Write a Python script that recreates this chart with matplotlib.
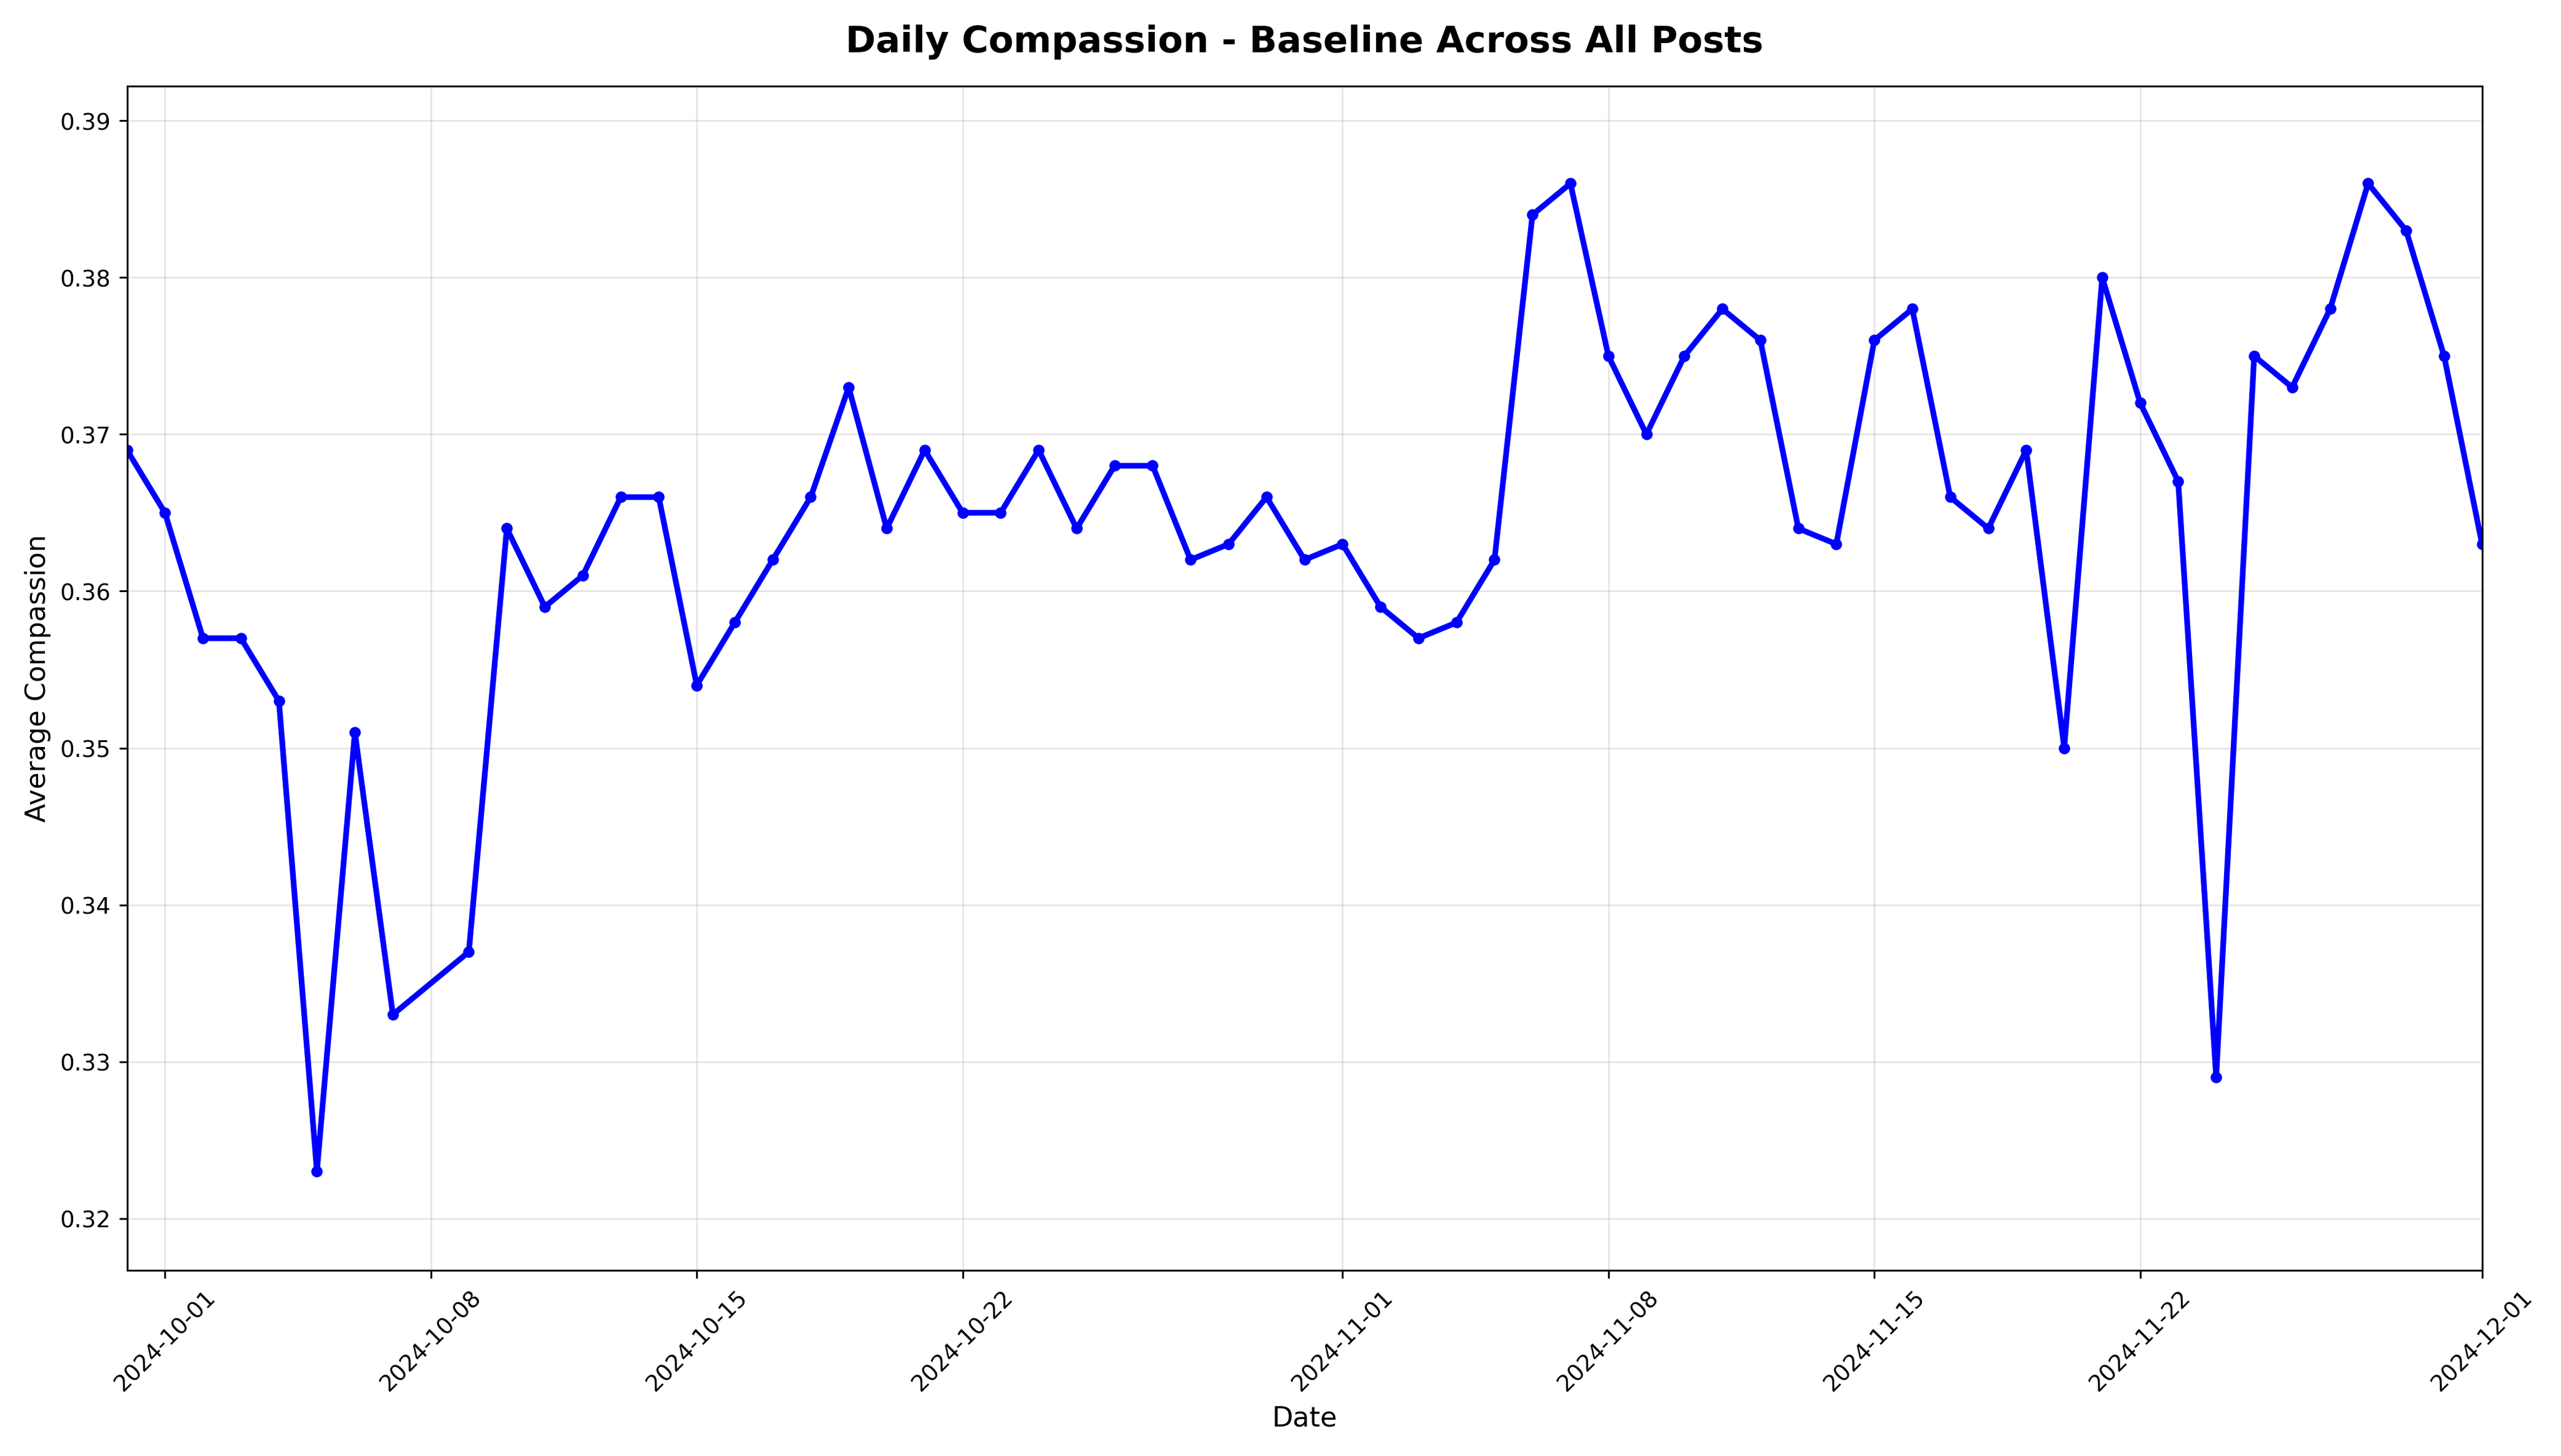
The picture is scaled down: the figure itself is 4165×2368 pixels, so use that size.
import pandas as pd
import matplotlib
matplotlib.use("Agg")
import matplotlib.pyplot as plt
import matplotlib.dates as mdates

dates = pd.to_datetime(
    ["2024-09-30"] + [f"2024-10-{d:02d}" for d in range(1, 8)]
    + [f"2024-10-{d:02d}" for d in range(9, 32)]
    + [f"2024-11-{d:02d}" for d in range(1, 31)]
    + ["2024-12-01"])
values = [0.369,
          0.365, 0.357, 0.357, 0.353, 0.323, 0.351, 0.333,
          0.337, 0.364, 0.359, 0.361, 0.366, 0.366, 0.354, 0.358, 0.362,
          0.366, 0.373, 0.364, 0.369, 0.365, 0.365, 0.369, 0.364, 0.368,
          0.368, 0.362, 0.363, 0.366, 0.362,
          0.363, 0.359, 0.357, 0.358, 0.362, 0.384, 0.386, 0.375, 0.370,
          0.375, 0.378, 0.376, 0.364, 0.363, 0.376, 0.378, 0.366, 0.364,
          0.369, 0.350, 0.380, 0.372, 0.367, 0.329, 0.375, 0.373, 0.378,
          0.386, 0.383, 0.375,
          0.363]

fig, ax = plt.subplots(figsize=(15.62, 8.88), dpi=266.7)
ax.plot(dates, values, color="blue", linewidth=2.5, marker="o", markersize=4)
ax.set_title("Daily Compassion - Baseline Across All Posts", fontsize=16,
             fontweight="bold", pad=15)
ax.set_xlabel("Date", fontsize=12)
ax.set_ylabel("Average Compassion", fontsize=12)
ax.grid(True, alpha=0.3)
ax.set_xlim(dates[0], dates[-1])
ax.set_ylim(0.3167, 0.3922)
ax.xaxis.set_major_locator(mdates.DayLocator(bymonthday=[1, 8, 15, 22]))
ax.xaxis.set_major_formatter(mdates.DateFormatter("%Y-%m-%d"))
plt.setp(ax.get_xticklabels(), rotation=45)
fig.tight_layout()
fig.savefig("out.png")
